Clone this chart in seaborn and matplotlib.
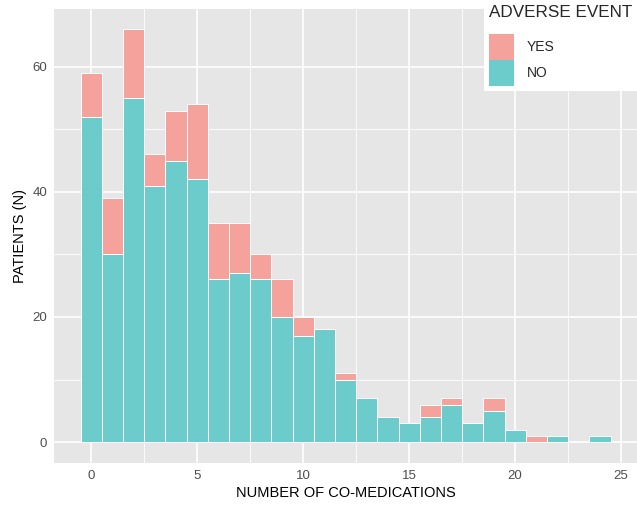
import numpy as np
import pandas as pd
import seaborn as sns
from matplotlib import pyplot as plt

# number of co-medications and patient counts per adverse event group
n_comeds = list(range(25))
no_event = [52, 30, 55, 41, 45, 42, 26, 27, 26, 20, 17, 18, 10, 7, 4, 3, 4, 6, 3, 5, 2, 0, 1, 0, 1]
yes_event = [7, 9, 11, 5, 8, 12, 9, 8, 4, 6, 3, 0, 1, 0, 0, 0, 2, 1, 0, 2, 0, 1, 0, 0, 0]
x_ticks = [0, 5, 10, 15, 20, 25]
y_ticks = [0, 20, 40, 60]

df = pd.concat([
    pd.DataFrame({"n": n_comeds, "event": "YES", "count": yes_event}),
    pd.DataFrame({"n": n_comeds, "event": "NO", "count": no_event}),
])

sns.set_style("darkgrid", {"axes.facecolor": "#E6E6E6", "grid.color": "white"})
plt.rcParams['font.family'] = ['Liberation Sans', 'DejaVu Sans']

fig = plt.figure(figsize=(6.37, 5.07), dpi=100)
ax = fig.add_axes([0.0848, 0.0874, 0.9152, 0.8954])

palette = {"YES": "#F5A29C", "NO": "#6CCCCC"}
sns.histplot(data=df, x="n", weights="count", hue="event", hue_order=["YES", "NO"],
             multiple="stack", discrete=True, shrink=1, palette=palette,
             edgecolor="white", linewidth=0.7, alpha=1, legend=False, ax=ax)

ax.set_xlim(-1.75, 25.75)
ax.set_ylim(-3.3, 69.3)
ax.set_xticks(x_ticks)
ax.set_yticks(y_ticks)
ax.set_xticks([2.5, 7.5, 12.5, 17.5, 22.5], minor=True)
ax.set_yticks([10, 30, 50], minor=True)
ax.grid(which="major", color="white", linewidth=1.2)
ax.grid(which="minor", color="white", linewidth=0.6)
ax.set_axisbelow(True)
for s in ax.spines.values():
    s.set_visible(False)
ax.tick_params(which="major", length=3, width=1, color="#333333", labelsize=9.5,
               labelcolor="#4D4D4D", pad=2)
ax.tick_params(which="minor", length=0)

ax.set_xlabel("NUMBER OF CO-MEDICATIONS", fontsize=10.5, color="black", labelpad=3)
ax.set_ylabel("PATIENTS (N)", fontsize=10.5, color="black", labelpad=4)

handles = [plt.Rectangle((0, 0), 1, 1, facecolor=palette[k], edgecolor="none") for k in ["YES", "NO"]]
leg = fig.legend(handles, ["YES", "NO"], title="ADVERSE EVENT", loc="upper right",
                 bbox_to_anchor=(1.0, 1.0), borderaxespad=0, frameon=True, facecolor="white",
                 edgecolor="none", fancybox=False, framealpha=1, fontsize=10,
                 title_fontsize=12.3, handlelength=1.8, handleheight=2.5,
                 handletextpad=0.9, labelspacing=0.0, borderpad=0.35, alignment="left")
leg._legend_box.sep = 10  # gap between legend title and keys

plt.savefig("out.png", dpi=100)
